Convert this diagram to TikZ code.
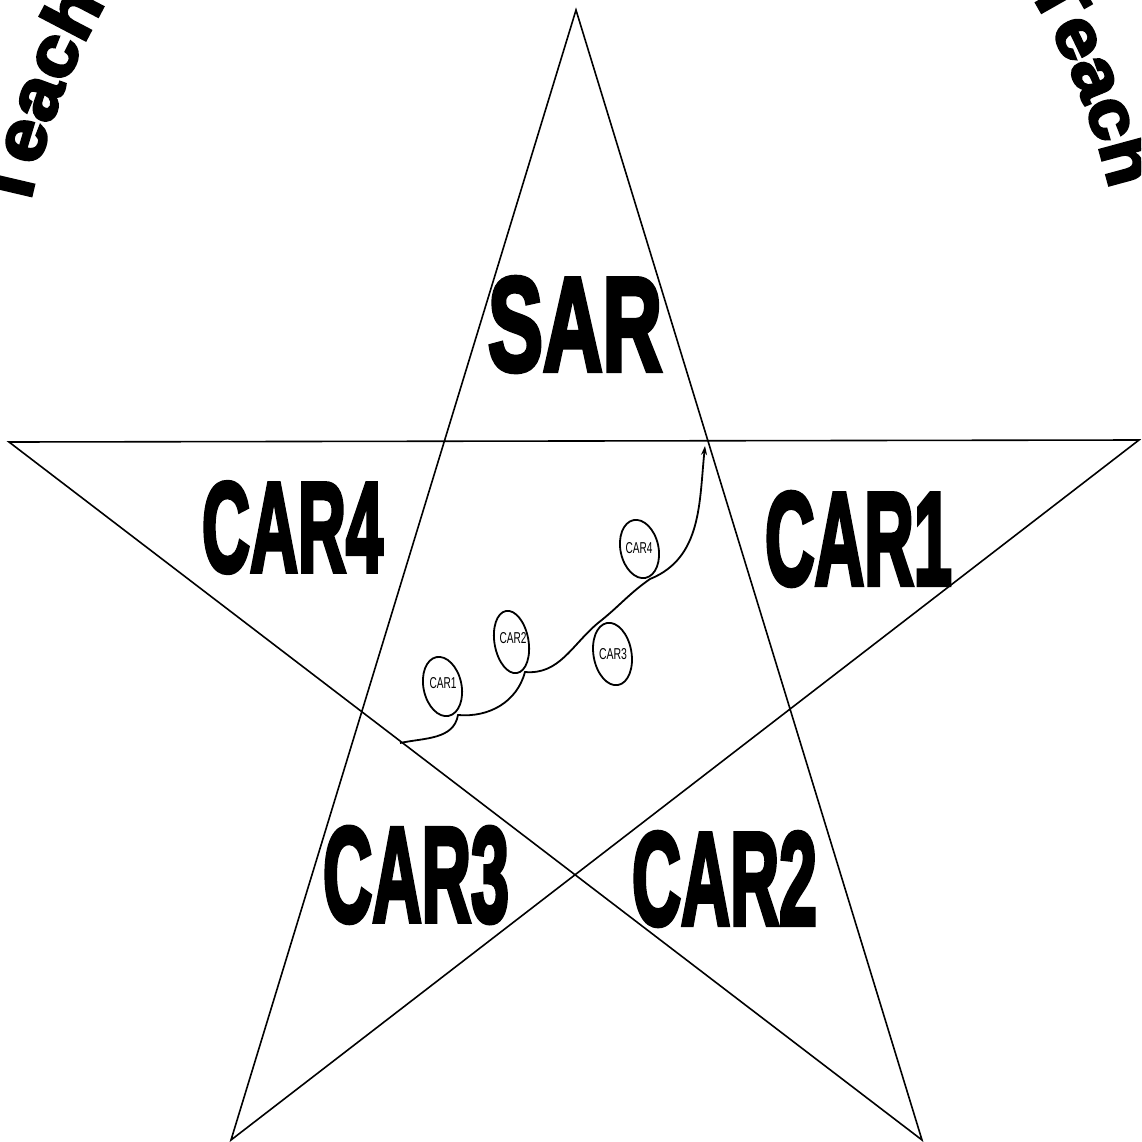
\documentclass[tikz,border=0pt]{standalone}
\usepackage{fontspec}
\usetikzlibrary{shapes.geometric,arrows.meta,decorations.text}
\newfontfamily\bigfont{Liberation Sans Bold}[FakeBold=4]
\newfontfamily\arcfont{Liberation Sans Bold}[FakeBold=4, FakeStretch=1.1]
\newfontfamily\smallfont{Liberation Sans}
\tikzset{
  starline/.style={line width=1.6pt, line join=miter},
  bigword/.style={inner sep=0pt, outer sep=0pt},
  loopring/.style={ellipse, draw, line width=1.8pt, inner sep=0pt},
  smalllabel/.style={inner sep=0pt, outer sep=0pt},
  route/.style={line width=1.8pt, -{Stealth[length=9pt,width=6pt]}},
  arctext/.style={decorate, decoration={text along path, text align=left,
      text={|\fontsize{#1}{#1}\arcfont|Teach}}}
}
\begin{document}
\begin{tikzpicture}[x=1pt,y=1pt]
\useasboundingbox (0,0) rectangle (1141,-1142);
\clip (0,0) rectangle (1141,-1142);
\fill[white] (0,0) rectangle (1141,-1142);
% star
\coordinate (T) at (576,-10);
\coordinate (L) at (9,-442);
\coordinate (R) at (1139,-440);
\coordinate (BL) at (231,-1140);
\coordinate (BR) at (922,-1140);
\draw[starline] (T) -- (BL) -- (R) -- (L) -- (BR) -- cycle;
% big words
\node[bigword] (sar) at (575,-324.5) {\resizebox{174pt}{93pt}{\bigfont SAR}};
\node[bigword] (car4) at (292.5,-527.5) {\resizebox{181pt}{89pt}{\bigfont CAR4}};
\node[bigword] (car1) at (858.5,-539) {\resizebox{187pt}{92pt}{\bigfont CAR1}};
\node[bigword] (car3) at (416,-875) {\resizebox{186pt}{94pt}{\bigfont CAR3}};
\node[bigword] (car2) at (724.5,-879) {\resizebox{185pt}{92pt}{\bigfont CAR2}};
% curved words
\path[arctext=71] (568,-360) ++(166.9:555 and 646) arc[start angle=166.9, end angle=100, x radius=555, y radius=646];
\path[arctext=69] (568,-360) ++(35.2:562 and 646) arc[start angle=35.2, end angle=-30, x radius=562, y radius=646];
% loops
\node[loopring, minimum width=38pt, minimum height=60pt, rotate=12] (c1) at (442.5,-686.5) {};
\node[loopring, minimum width=34pt, minimum height=63pt, rotate=10] (c2) at (511.5,-642) {};
\node[loopring, minimum width=38pt, minimum height=63pt, rotate=10] (c3) at (612.5,-654) {};
\node[loopring, minimum width=38pt, minimum height=59pt, rotate=12] (c4) at (639.5,-549) {};
\node[smalllabel] (t1) at (443,-683) {\resizebox{27pt}{11pt}{\smallfont CAR1}};
\node[smalllabel] (t2) at (513,-638) {\resizebox{27pt}{11pt}{\smallfont CAR2}};
\node[smalllabel] (t3) at (613,-654) {\resizebox{28pt}{11pt}{\smallfont CAR3}};
\node[smalllabel] (t4) at (639,-548) {\resizebox{27pt}{11pt}{\smallfont CAR4}};
% route
\coordinate (start) at (400,-743);
\coordinate (k1) at (458,-715);
\coordinate (k2) at (525,-672);
\coordinate (k3) at (598,-623);
\coordinate (k4) at (650,-579);
\coordinate (tip) at (705,-446);
\draw[route] (start) to[out=12,in=-100] (k1)
  to[out=-5,in=-105] (k2)
  to[out=-5,in=-140] (k3)
  to[out=38,in=-145] (k4)
  to[out=22,in=-96] (tip);
\end{tikzpicture}
\end{document}
